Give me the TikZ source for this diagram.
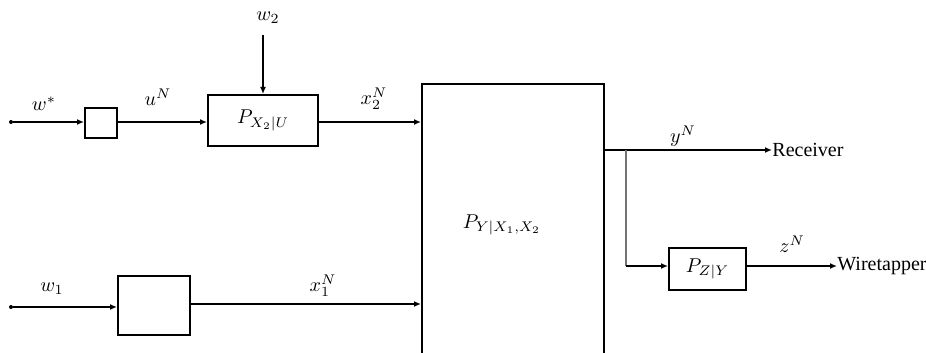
\documentclass[tikz,border=0pt]{standalone}
\usepackage{fontspec}
\newfontfamily\textserif{Liberation Serif}
\usetikzlibrary{arrows.meta,calc}
\begin{document}
\begin{tikzpicture}[x=0.5pt,y=-0.5pt,
  blk/.style={draw,line width=1pt,rectangle,inner sep=0pt},
  sig/.style={line width=1pt,-{Latex[length=3.5pt,width=3pt]}},
  lbl/.style={inner sep=0pt},
  dotstart/.style={circle,fill,inner sep=0pt,minimum size=2pt}]
  \clip (0,0) rectangle (926,353);
  % blocks
  \node[blk,minimum width=16pt,minimum height=15pt] (enc) at (101,123) {};
  \node[blk,minimum width=55pt,minimum height=25.5pt] (pxu) at (263,120.5) {$P_{X_2|U}$};
  \node[blk,minimum width=36pt,minimum height=29.5pt] (enc1) at (154,305.5) {};
  \node[blk,minimum width=91pt,minimum height=141pt] (chan) at (513,225) {};
  \node[lbl] (chanlbl) at (502,225) {$P_{Y|X_1,X_2}$};
  \node[blk,minimum width=38.5pt,minimum height=21pt] (pzy) at (707.5,269) {$P_{Z|Y}$};
  % sources and sinks
  \node[dotstart] (src) at (11,122) {};
  \node[dotstart] (src1) at (11,307) {};
  \coordinate (w2top) at (263,35);
  \coordinate (ysplit) at (604,150);
  \coordinate (ybranch) at (626,150);
  \coordinate (ybend) at (626,266);
  \node[lbl,anchor=west,font=\textserif] (rx) at (772,150) {Receiver};
  \node[lbl,anchor=west,font=\textserif] (wt) at (837,266) {Wiretapper};
  % connectors
  \draw[sig] (src) -- (src -| enc.west);
  \draw[sig] (enc.east |- src) -- (src -| pxu.west);
  \draw[sig] (w2top) -- (pxu.north);
  \draw[sig] (pxu.east |- src) -- (src -| chan.west);
  \draw[sig] (src1) -- (src1 -| enc1.west);
  \draw[sig] (enc1.east |- 0,304) -- (chan.west |- 0,304);
  \draw[sig] (ysplit) -- (rx.west);
  \draw[line width=1pt,black!55] (ybranch) -- (ybend);
  \draw[sig] (ybend) -- (ybend -| pzy.west);
  \draw[sig] (pzy.east |- ybend) -- (wt.west);
  % signal labels
  \node[lbl] (lws) at (44,104) {$w^{*}$};
  \node[lbl] (lun) at (158,97) {$u^{N}$};
  \node[lbl] (lw2) at (268,18) {$w_2$};
  \node[lbl] (lx2) at (374,99) {$x_2^{N}$};
  \node[lbl] (lw1) at (52,289) {$w_1$};
  \node[lbl] (lx1) at (323,286) {$x_1^{N}$};
  \node[lbl] (lyn) at (683,136) {$y^{N}$};
  \node[lbl] (lzn) at (792,244) {$z^{N}$};
\end{tikzpicture}
\end{document}
